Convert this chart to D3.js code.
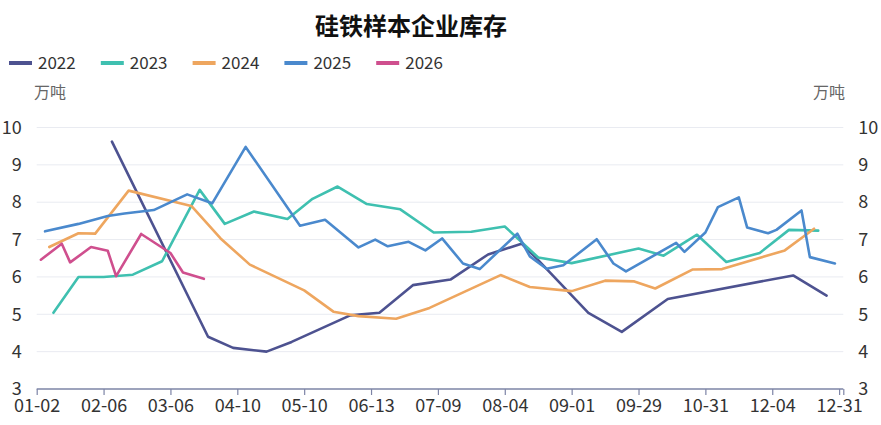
<!doctype html>
<html>
  <head>
    <meta charset="UTF-8">
    <title>硅铁样本企业库存</title>
    <style>
      body { margin: 0; background: #fff; }
      svg text { font-family: "Noto Sans CJK SC", "Noto Sans", sans-serif; }
      .grid line { stroke: #e9ebf1; stroke-width: 1; }
      .series { fill: none; stroke-width: 2.6px; stroke-linejoin: round; stroke-linecap: round; }
    </style>
  </head>
  <body>
    <svg id="chart" width="881" height="425"></svg>

    <script src="https://d3js.org/d3.v7.min.js"></script>
    <script>
      // Category axis: 194 date slots, a label every 16 slots
      const slotCount = 194;
      const tickStep = 16;
      const tickLabels = ["01-02", "02-06", "03-06", "04-10", "05-10", "06-13", "07-09",
                          "08-04", "09-01", "09-29", "10-31", "12-04", "12-31"];
      const yTicks = [3, 4, 5, 6, 7, 8, 9, 10];

      // Series: [slot index, value in 万吨]
      const years = ["2022", "2023", "2024", "2025", "2026"];
      const colors = ["#4d5290", "#3fc0b0", "#eea65f", "#4a89cd", "#cf4f8e"];

      const s2022 = [[18, 9.62], [41, 4.40], [47, 4.10], [55, 4.00], [61, 4.26], [75, 4.97],
                     [82, 5.04], [90, 5.78], [99, 5.93], [108, 6.60], [116, 6.89], [120, 6.45],
                     [132, 5.04], [140, 4.53], [151, 5.41], [181, 6.04], [189, 5.50]];
      const s2023 = [[4, 5.04], [10, 6.00], [16, 6.00], [23, 6.06], [30, 6.42], [39, 8.33],
                     [45, 7.42], [52, 7.75], [60, 7.55], [66, 8.09], [72, 8.42], [79, 7.95],
                     [87, 7.81], [95, 7.19], [104, 7.21], [112, 7.35], [120, 6.52], [128, 6.37],
                     [144, 6.76], [150, 6.57], [158, 7.13], [165, 6.40], [173, 6.64], [180, 7.26],
                     [187, 7.24]];
      const s2024 = [[3, 6.80], [10, 7.17], [14, 7.16], [22, 8.31], [37, 7.90], [44, 7.03],
                     [51, 6.33], [64, 5.64], [71, 5.07], [77, 4.95], [86, 4.88], [94, 5.17],
                     [111, 6.05], [118, 5.73], [128, 5.62], [136, 5.90], [143, 5.88], [148, 5.69],
                     [157, 6.20], [164, 6.21], [179, 6.71], [186, 7.29]];
      const s2025 = [[2, 7.22], [10, 7.42], [17, 7.63], [21, 7.70], [28, 7.79], [36, 8.21],
                     [42, 7.97], [50, 9.48], [63, 7.37], [69, 7.53], [77, 6.79], [81, 7.00],
                     [84, 6.82], [89, 6.94], [93, 6.71], [97, 7.03], [102, 6.36], [106, 6.21],
                     [115, 7.16], [118, 6.55], [122, 6.22], [126, 6.31], [134, 7.01], [138, 6.36],
                     [141, 6.15], [153, 6.91], [155, 6.67], [160, 7.19], [163, 7.87], [168, 8.13],
                     [170, 7.32], [175, 7.17], [177, 7.26], [183, 7.78], [185, 6.53], [191, 6.36]];
      const s2026 = [[1, 6.46], [6, 6.89], [8, 6.39], [13, 6.80], [17, 6.70], [19, 6.02],
                     [25, 7.15], [32, 6.64], [35, 6.12], [40, 5.95]];
      const seriesData = [s2022, s2023, s2024, s2025, s2026];

      const svg = d3.select("#chart");

      const x = d3.scaleLinear()
        .domain([0, slotCount - 1])
        .range([36.7, 843.3]);

      const y = d3.scaleLinear()
        .domain([3, 10])
        .range([389, 127.5]);

      // Title
      svg.append("text")
        .attr("x", 411)
        .attr("y", 35)
        .attr("text-anchor", "middle")
        .style("font-size", "24px")
        .style("font-weight", "bold")
        .style("fill", "#111")
        .text("硅铁样本企业库存");

      // Legend
      const legend = svg.append("g").attr("transform", "translate(9,63)");
      years.forEach((yr, i) => {
        const g = legend.append("g").attr("transform", `translate(${i * 91.8},0)`);
        g.append("line")
          .attr("x1", 0).attr("x2", 23)
          .attr("stroke", colors[i])
          .attr("stroke-width", 4);
        g.append("text")
          .attr("x", 29)
          .attr("y", 0)
          .attr("dy", "0.36em")
          .style("font-size", "17px")
          .style("fill", "#333")
          .text(yr);
      });

      // Unit labels
      svg.append("text")
        .attr("x", 34).attr("y", 92).attr("dy", "0.36em")
        .style("font-size", "16px").style("fill", "#666")
        .text("万吨");
      svg.append("text")
        .attr("x", 845).attr("y", 92).attr("dy", "0.36em")
        .attr("text-anchor", "end")
        .style("font-size", "16px").style("fill", "#666")
        .text("万吨");

      // Horizontal grid
      svg.append("g")
        .attr("class", "grid")
        .selectAll("line")
        .data(yTicks.filter(d => d > 3))
        .enter().append("line")
          .attr("x1", x(0)).attr("x2", x(slotCount - 1))
          .attr("y1", d => y(d)).attr("y2", d => y(d));

      // Left and right y axes (labels only)
      const fmt = d3.format("d");
      const yLeft = d3.axisLeft(y).tickValues(yTicks).tickFormat(fmt).tickSize(0).tickPadding(15);
      const yRight = d3.axisRight(y).tickValues(yTicks).tickFormat(fmt).tickSize(0).tickPadding(15);
      [[yLeft, x(0)], [yRight, x(slotCount - 1)]].forEach(([ax, xPos]) => {
        const g = svg.append("g").attr("transform", `translate(${xPos},0)`).call(ax);
        g.select(".domain").remove();
        g.selectAll("text")
          .style("font-size", "18px")
          .style("fill", "#333")
          .style("font-family", '"Noto Sans CJK SC", sans-serif');
      });

      // X axis: ticks every 16 slots plus the last slot
      const tickIdx = tickLabels.map((d, i) => i * tickStep);
      const xAxis = d3.axisBottom(x)
        .tickValues(tickIdx.concat([slotCount - 1]))
        .tickSize(6)
        .tickPadding(4)
        .tickFormat(d => {
          const i = tickIdx.indexOf(d);
          return i >= 0 ? tickLabels[i] : "";
        });
      const gx = svg.append("g")
        .attr("transform", `translate(0,${y(3)})`)
        .call(xAxis);
      gx.select(".domain").attr("stroke", "#7d84a6").attr("stroke-width", 1.4)
        .attr("d", `M${x(0)},0H${x(slotCount - 1)}`);
      gx.selectAll(".tick line").attr("stroke", "#7d84a6").attr("stroke-width", 1.2);
      gx.selectAll("text")
        .style("font-size", "18px")
        .style("fill", "#333")
        .style("font-family", '"Noto Sans CJK SC", sans-serif');

      // Lines
      const line = d3.line()
        .x(d => x(d[0]))
        .y(d => y(d[1]));

      svg.append("g")
        .selectAll("path")
        .data(seriesData)
        .enter().append("path")
          .attr("class", "series")
          .attr("stroke", (d, i) => colors[i])
          .attr("d", line);
    </script>
  </body>
</html>
